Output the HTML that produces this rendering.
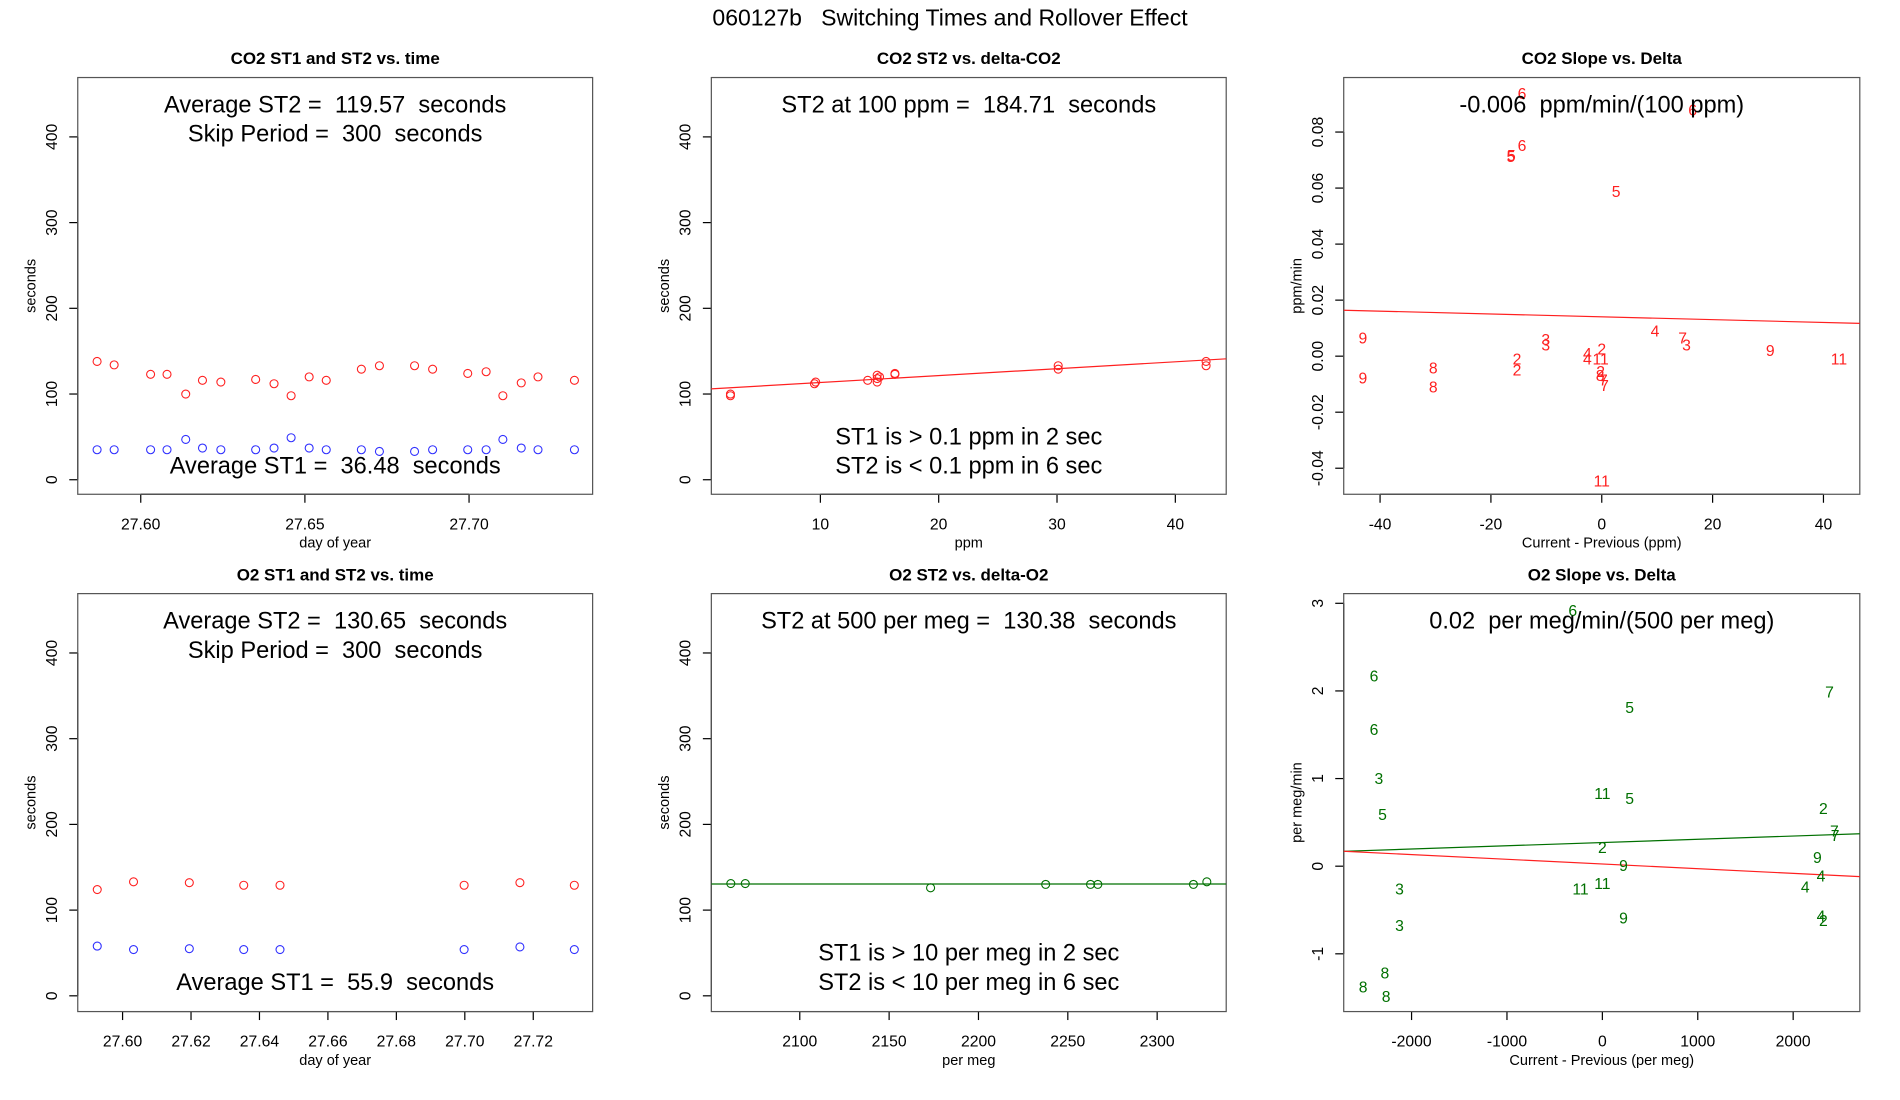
<!DOCTYPE html>
<html><head><meta charset="utf-8"><style>
html,body{margin:0;padding:0;background:#fff}
svg{display:block;font-family:"Liberation Sans",sans-serif}
svg text{white-space:pre}
</style></head><body>
<svg id="c" width="1900" height="1100" viewBox="0 0 1568 908" xmlns="http://www.w3.org/2000/svg" xml:space="preserve">
<text x="784" y="21" font-size="19" text-anchor="middle">060127b   Switching Times and Rollover Effect</text>
</svg>
<script>
// ---- Panel 1: CO2 ST1/ST2 vs time
const co2Days=[27.5867,27.5919,27.603,27.608,27.6137,27.6188,27.6244,27.635,27.6406,27.6458,27.6513,27.6565,27.6672,27.6727,27.6834,27.6889,27.6996,27.7052,27.7103,27.7159,27.721,27.7321];
const co2ST2=[138,134,123,123,100,116,114,117,112,98,120,116,129,133,133,129,124,126,98,113,120,116];
const co2ST1=[35,35,35,35,47,37,35,35,37,49,37,35,35,33,33,35,35,35,47,37,35,35];
const co2DayTicks=[27.60,27.65,27.70];
const secTicks=[0,100,200,300,400];
// ---- Panel 2: CO2 ST2 vs delta
const co2Delta=[2.4,2.4,9.5,9.6,14.0,14.8,14.8,14.8,15.0,16.3,16.3,30.1,30.1,42.6,42.6];
const co2DeltaST2=[98,100,112,114,116,114,118,122,120,124,123,129,133,133,138];
const co2Fit=[105.4,0.805]; // intercept, slope
const ppmTicks=[10,20,30,40];
// ---- Panel 3: CO2 slope vs delta
const co2SlLab=["9","9","8","8","2","2","3","3","4","4","11","2","2","8","7","7","4","7","3","9","11","11","5","5","5","6","6","6"];
const co2SlX=[-43.1,-43.1,-30.4,-30.4,-15.3,-15.3,-10.1,-10.1,-2.6,-2.6,-0.2,0,-0.2,-0.3,0.5,0.3,9.6,14.6,15.3,30.4,42.8,0,2.6,-16.4,-16.3,-14.4,-14.4,16.4];
const co2SlY=[0.0065,-0.0078,-0.0043,-0.011,-0.001,-0.005,0.006,0.004,0.001,-0.001,-0.001,0.0026,-0.0055,-0.007,-0.0104,-0.0085,0.009,0.0065,0.004,0.002,-0.001,-0.0445,0.0588,0.0713,0.0716,0.0752,0.0938,0.0878];
const co2SlFit=[0.01405,-0.0000505];
const co2SlXTicks=[-40,-20,0,20,40];
const co2SlYTicks=[-0.04,-0.02,0,0.02,0.04,0.06,0.08];
const co2SlYLabels=["-0.04","-0.02","0.00","0.02","0.04","0.06","0.08"];
// ---- Panel 4: O2 ST1/ST2 vs time
const o2Days=[27.5926,27.6032,27.6195,27.6354,27.646,27.6998,27.7161,27.732];
const o2ST2=[124,133,132,129,129,129,132,129];
const o2ST1=[58,54,55,54,54,54,57,54];
const o2DayTicks=[27.60,27.62,27.64,27.66,27.68,27.70,27.72];
// ---- Panel 5: O2 ST2 vs delta
const o2Delta=[2061.4,2069.5,2173.2,2237.6,2262.7,2266.8,2320.3,2327.8];
const o2DeltaST2=[131,131,126,130,130,130,130,133];
const o2Fit=[130.5,0];
const pmTicks=[2100,2150,2200,2250,2300];
// ---- Panel 6: O2 slope vs delta
const o2SlLab=["6","6","6","3","5","3","3","8","8","8","5","11","5","2","9","11","11","9","7","2","7","7","9","4","4","4","2"];
const o2SlX=[-311,-2394,-2394,-2343,-2305,-2127,-2127,-2280,-2508,-2267,286,0,286,0,222,-229,0,222,2381,2317,2432,2440,2254,2292,2127,2292,2317];
const o2SlY=[2.92,2.17,1.56,1.0,0.59,-0.26,-0.68,-1.22,-1.38,-1.49,1.81,0.83,0.77,0.21,0.01,-0.26,-0.2,-0.59,1.99,0.66,0.40,0.35,0.1,-0.11,-0.24,-0.57,-0.62];
const o2SlFitG=[0.27,0.0000370];
const o2SlFitR=[0.025,-0.0000535];
const o2SlXTicks=[-2000,-1000,0,1000,2000];
const o2SlYTicks=[-1,0,1,2,3];

const svg=document.getElementById('c');
const NS='http://www.w3.org/2000/svg';
function mk(tag,attrs,parent){const e=document.createElementNS(NS,tag);for(const k in attrs)e.setAttribute(k,attrs[k]);(parent||svg).appendChild(e);return e;}
function txt(s,attrs,parent){const e=mk('text',attrs,parent);e.textContent=s;return e;}
function lin(a0,a1,p0,p1){return v=>p0+(v-a0)*(p1-p0)/(a1-a0);}

function panel(o){
  const g=mk('g',{});
  
  
  const [L,T,R,B]=o.box;
  const t=txt(o.title,{x:(L+R)/2,y:T-11,'font-size':14,'font-weight':'bold','text-anchor':'middle'},g);
  
  
  const fx=o.fx, fy=o.fy;
  const xa=mk('g',{},g);
  
  
  mk('line',{x1:fx(o.xt[0]),x2:fx(o.xt[o.xt.length-1]),y1:B,y2:B,stroke:'#000'},xa);
  o.xt.forEach((v,i)=>{const x=fx(v);mk('line',{x1:x,x2:x,y1:B,y2:B+7,stroke:'#000'},xa);
    const tl=txt(o.xl?o.xl[i]:String(v),{x:x,y:B+29,'font-size':13,'text-anchor':'middle'},xa);
    });
  const xl=txt(o.xlab,{x:(L+R)/2,y:B+44,'font-size':12,'text-anchor':'middle'},xa);
  
  const ya=mk('g',{},g);
  
  
  mk('line',{x1:L,x2:L,y1:fy(o.yt[0]),y2:fy(o.yt[o.yt.length-1]),stroke:'#000'},ya);
  o.yt.forEach((v,i)=>{const y=fy(v);mk('line',{x1:L,x2:L-7,y1:y,y2:y,stroke:'#000'},ya);
    const tl=txt(o.yl?o.yl[i]:String(v),{x:0,y:0,'font-size':13,'text-anchor':'middle',transform:`translate(${L-17},${y}) rotate(-90)`},ya);
    });
  const yl=txt(o.ylab,{x:0,y:0,'font-size':12,'text-anchor':'middle',transform:`translate(${L-35},${(T+B)/2}) rotate(-90)`},ya);
  
  const bx=mk('rect',{x:L,y:T,width:R-L,height:B-T,fill:'none',stroke:'#555','stroke-width':1},g);
  
  const cp='cp'+o.name;
  const cl=mk('clipPath',{id:cp},g);mk('rect',{x:L,y:T,width:R-L,height:B-T},cl);
  const pg=mk('g',{'clip-path':`url(#${cp})`},g);
  return {g,pg,fx,fy,L,T,R,B};
}
function circles(p,xs,ys,col,name){xs.forEach((x,i)=>{const c=mk('circle',{cx:p.fx(x),cy:p.fy(ys[i]),r:3.3,fill:'none',stroke:col,'stroke-width':0.9},p.pg);
  });}
function labels(p,labs,xs,ys,col,name){labs.forEach((s,i)=>{const t=txt(s,{x:p.fx(xs[i]),y:p.fy(ys[i])+4.5,'font-size':13,fill:col,'text-anchor':'middle'},p.pg);
  });}
function fitLine(p,fit,x0,x1,col,name){const l=mk('line',{x1:p.fx(x0),x2:p.fx(x1),y1:p.fy(fit[0]+fit[1]*x0),y2:p.fy(fit[0]+fit[1]*x1),stroke:col,'stroke-width':1},p.pg);
  }
function note(p,lines,y0,name){lines.forEach((s,i)=>{const t=txt(s,{x:(p.L+p.R)/2,y:y0+i*24,'font-size':19.5,'text-anchor':'middle'},p.g);
  });}

const RED='#ff2020',BLUE='#3030ff',GRN='#007000';
let p=panel({name:'co2-time-panel',title:'CO2 ST1 and ST2 vs. time',box:[64,64,489,408],fx:lin(27.60,27.70,116,387),fy:lin(0,400,396,113),xt:co2DayTicks,xl:['27.60','27.65','27.70'],yt:secTicks,xlab:'day of year',ylab:'seconds'});
circles(p,co2Days,co2ST2,RED,'st2-point');circles(p,co2Days,co2ST1,BLUE,'st1-point');
note(p,['Average ST2 =  119.57  seconds','Skip Period =  300  seconds'],93,'annotation');
note(p,['Average ST1 =  36.48  seconds'],391,'annotation');
p=panel({name:'co2-delta-panel',title:'CO2 ST2 vs. delta-CO2',box:[587,64,1012,408],fx:lin(10,40,677,970),fy:lin(0,400,396,113),xt:ppmTicks,yt:secTicks,xlab:'ppm',ylab:'seconds'});
circles(p,co2Delta,co2DeltaST2,RED,'st2-point');fitLine(p,co2Fit,-5,50,RED,'fit-line');
note(p,['ST2 at 100 ppm =  184.71  seconds'],93,'annotation');
note(p,['ST1 is > 0.1 ppm in 2 sec','ST2 is < 0.1 ppm in 6 sec'],367,'annotation');
p=panel({name:'co2-slope-panel',title:'CO2 Slope vs. Delta',box:[1109,64,1535,408],fx:lin(-40,40,1139,1505),fy:lin(0,0.08,294,109),xt:co2SlXTicks,yt:co2SlYTicks,yl:co2SlYLabels,xlab:'Current - Previous (ppm)',ylab:'ppm/min'});
fitLine(p,co2SlFit,-60,60,RED,'fit-line');labels(p,co2SlLab,co2SlX,co2SlY,RED,'point-label');
note(p,['-0.006  ppm/min/(100 ppm)'],93,'annotation');
p=panel({name:'o2-time-panel',title:'O2 ST1 and ST2 vs. time',box:[64,490,489,835],fx:lin(27.60,27.72,101,440),fy:lin(0,400,822,539),xt:o2DayTicks,xl:['27.60','27.62','27.64','27.66','27.68','27.70','27.72'],yt:secTicks,xlab:'day of year',ylab:'seconds'});
circles(p,o2Days,o2ST2,RED,'st2-point');circles(p,o2Days,o2ST1,BLUE,'st1-point');
note(p,['Average ST2 =  130.65  seconds','Skip Period =  300  seconds'],519,'annotation');
note(p,['Average ST1 =  55.9  seconds'],817,'annotation');
p=panel({name:'o2-delta-panel',title:'O2 ST2 vs. delta-O2',box:[587,490,1012,835],fx:lin(2100,2300,660,955),fy:lin(0,400,822,539),xt:pmTicks,yt:secTicks,xlab:'per meg',ylab:'seconds'});
circles(p,o2Delta,o2DeltaST2,GRN,'st2-point');fitLine(p,o2Fit,1900,2500,GRN,'fit-line');
note(p,['ST2 at 500 per meg =  130.38  seconds'],519,'annotation');
note(p,['ST1 is > 10 per meg in 2 sec','ST2 is < 10 per meg in 6 sec'],793,'annotation');
p=panel({name:'o2-slope-panel',title:'O2 Slope vs. Delta',box:[1109,490,1535,835],fx:lin(-2000,2000,1165,1480),fy:lin(0,3,715,498),xt:o2SlXTicks,yt:o2SlYTicks,xlab:'Current - Previous (per meg)',ylab:'per meg/min'});
fitLine(p,o2SlFitG,-3000,3000,GRN,'fit-line-green');fitLine(p,o2SlFitR,-3000,3000,RED,'fit-line-red');
labels(p,o2SlLab,o2SlX,o2SlY,GRN,'point-label');
note(p,['0.02  per meg/min/(500 per meg)'],519,'annotation');
</script>
</body></html>
